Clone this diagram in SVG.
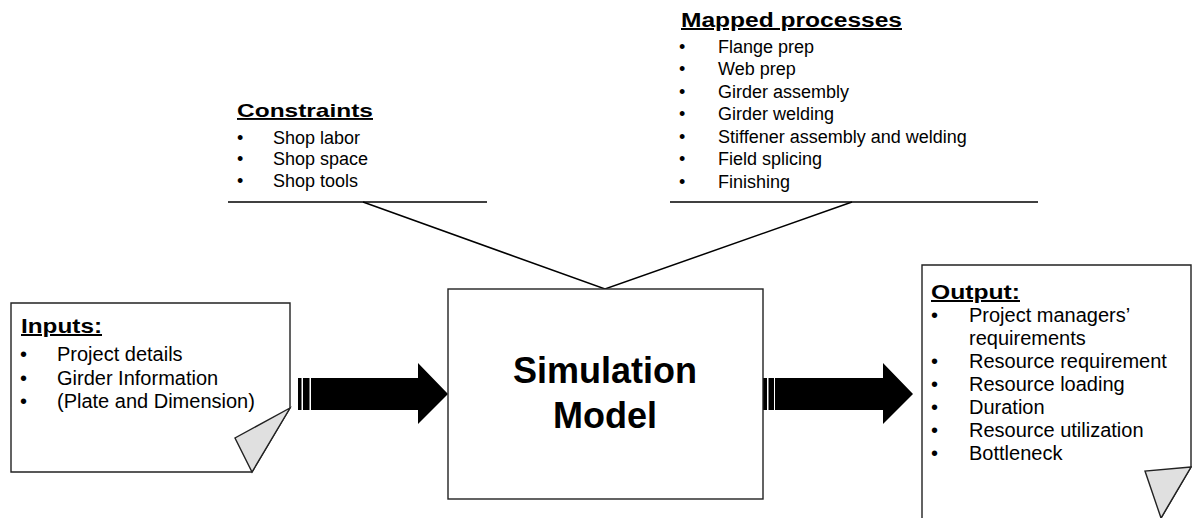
<svg xmlns="http://www.w3.org/2000/svg" width="1192" height="518" viewBox="0 0 1192 518">
<style>
.t{font-family:"Liberation Sans",Arial,sans-serif;fill:#000}
.b{font-weight:bold;text-decoration:underline}
.i20{font-size:20px}
.i18{font-size:18px}
.box{fill:#fff;stroke:#222;stroke-width:1.4}
.fold{fill:#e0e0e0;stroke:#222;stroke-width:1.4;stroke-linejoin:miter}
.ln{stroke:#000;stroke-width:1.5;fill:none}
.arr{fill:#000}
</style>
<rect width="1192" height="518" fill="#fff"/>
<g id="connectors">
<line class="ln" x1="228" y1="202" x2="487" y2="202"/>
<line class="ln" x1="670" y1="202" x2="1038" y2="202"/>
<polyline class="ln" points="363,202 605,289 852,202" stroke-width="1.3"/>
<g id="arrow-in" class="arr">
<rect x="298" y="378" width="3.5" height="32"/>
<rect x="303" y="378" width="6.5" height="32"/>
<polygon points="311,378 418,378 418,363 448,394 418,424 418,410 311,410"/>
</g>
<g id="arrow-out" class="arr">
<rect x="763" y="378" width="4" height="32"/>
<rect x="768.5" y="378" width="5.5" height="32"/>
<polygon points="775,378 883,378 883,363 913,394 883,424 883,410 775,410"/>
</g>
</g>
<g id="constraints">
<text class="t b" x="237" y="117" font-size="19" textLength="136" lengthAdjust="spacingAndGlyphs">Constraints</text>
<g class="t i18">
<text x="237" y="144">•</text><text x="273" y="144">Shop labor</text>
<text x="237" y="165">•</text><text x="273" y="165">Shop space</text>
<text x="237" y="187">•</text><text x="273" y="187">Shop tools</text>
</g>
</g>
<g id="mapped">
<text class="t b" x="681" y="27" font-size="20" textLength="221" lengthAdjust="spacingAndGlyphs">Mapped processes</text>
<g class="t i18">
<text x="679" y="52.5">•</text><text x="718" y="52.5">Flange prep</text>
<text x="679" y="75">•</text><text x="718" y="75">Web prep</text>
<text x="679" y="97.5">•</text><text x="718" y="97.5">Girder assembly</text>
<text x="679" y="120">•</text><text x="718" y="120">Girder welding</text>
<text x="679" y="142.5">•</text><text x="718" y="142.5">Stiffener assembly and welding</text>
<text x="679" y="165">•</text><text x="718" y="165">Field splicing</text>
<text x="679" y="187.5">•</text><text x="718" y="187.5">Finishing</text>
</g>
</g>
<g id="inputs">
<path class="box" d="M11,303 H290 V408 L252,472 H11 Z"/>
<polygon class="fold" points="290,408 252,472 235,438"/>
<text class="t b" x="21" y="333" font-size="20" textLength="81" lengthAdjust="spacingAndGlyphs">Inputs:</text>
<g class="t i20">
<text x="20" y="361">•</text><text x="57" y="361">Project details</text>
<text x="20" y="385">•</text><text x="57" y="385">Girder Information</text>
<text x="20" y="408">•</text><text x="57" y="408">(Plate and Dimension)</text>
</g>
</g>
<g id="model">
<rect class="box" x="448" y="289" width="315" height="210"/>
<text class="t" x="605" y="383" font-size="36" font-weight="bold" text-anchor="middle">Simulation</text>
<text class="t" x="605" y="428" font-size="36" font-weight="bold" text-anchor="middle">Model</text>
</g>
<g id="output">
<path class="box" d="M922,525 V265 H1191 V467 L1157,525"/>
<polygon class="fold" points="1191,467 1145,471 1161,518"/>
<text class="t b" x="931" y="299" font-size="20" textLength="89" lengthAdjust="spacingAndGlyphs">Output:</text>
<g class="t i20">
<text x="931" y="322">•</text><text x="969" y="322">Project managers’</text>
<text x="969" y="345">requirements</text>
<text x="931" y="368">•</text><text x="969" y="368">Resource requirement</text>
<text x="931" y="391">•</text><text x="969" y="391">Resource loading</text>
<text x="931" y="414">•</text><text x="969" y="414">Duration</text>
<text x="931" y="437">•</text><text x="969" y="437">Resource utilization</text>
<text x="931" y="460">•</text><text x="969" y="460">Bottleneck</text>
</g>
</g>
</svg>
